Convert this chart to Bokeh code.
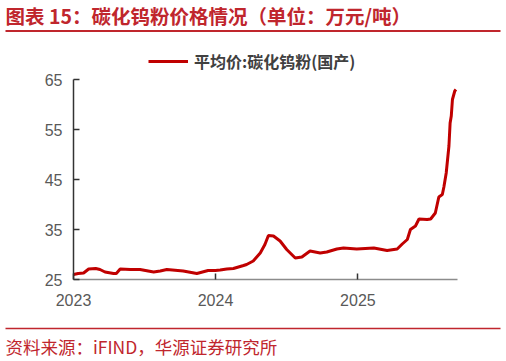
from datetime import datetime
from bokeh.plotting import figure
from bokeh.layouts import column, row
from bokeh.models import (Range1d, FixedTicker, DatetimeTickFormatter, Label,
                          BoxAnnotation, Legend, LegendItem, ColumnDataSource)
from bokeh.embed import file_html
from bokeh.resources import INLINE

title_text = "图表 15：碳化钨粉价格情况（单位：万元/吨）"
source_text = "资料来源：iFIND，华源证券研究所"
series_name = "平均价:碳化钨粉(国产)"

dates = [
    "2023-01-01", "2023-01-13", "2023-01-27", "2023-02-09", "2023-02-27", "2023-03-10",
    "2023-03-23", "2023-04-14", "2023-04-21", "2023-05-01", "2023-05-27", "2023-06-21",
    "2023-07-26", "2023-08-12", "2023-08-29", "2023-10-10", "2023-11-14", "2023-12-13",
    "2024-01-01", "2024-01-13", "2024-01-30", "2024-02-16", "2024-03-13", "2024-03-21",
    "2024-04-07", "2024-04-25", "2024-05-07", "2024-05-16", "2024-05-29", "2024-06-15",
    "2024-07-02", "2024-07-24", "2024-08-10", "2024-08-31", "2024-09-26", "2024-10-13",
    "2024-11-08", "2024-11-25", "2024-12-29", "2025-02-11", "2025-03-17", "2025-04-12",
    "2025-04-25", "2025-05-08", "2025-05-16", "2025-05-29", "2025-06-07", "2025-06-28",
    "2025-07-07", "2025-07-19", "2025-07-28", "2025-08-06", "2025-08-10", "2025-08-16",
    "2025-08-23", "2025-08-26", "2025-08-29", "2025-09-01", "2025-09-07", "2025-09-10",
]
prices = [
    26.0, 26.2, 26.3, 27.1, 27.2, 27.0,
    26.5, 26.2, 26.2, 27.1, 27.0, 27.0,
    26.5, 26.7, 27.0, 26.7, 26.2, 26.8,
    26.8, 26.9, 27.1, 27.2, 27.8, 28.0,
    28.7, 30.3, 32.0, 33.8, 33.7, 32.7,
    31.0, 29.3, 29.5, 30.7, 30.3, 30.5,
    31.1, 31.3, 31.1, 31.3, 30.8, 31.1,
    32.1, 33.0, 35.0, 35.7, 37.1, 37.0,
    37.1, 38.3, 41.5, 42.0, 43.5, 46.3,
    51.7, 56.3, 57.7, 61.0, 62.7, 63.0,
]
y_ticks = [25, 35, 45, 55, 65]
x_tick_years = [2023, 2024, 2025]

x = [datetime.strptime(d, "%Y-%m-%d") for d in dates]
src = ColumnDataSource(dict(x=x, y=prices))

W = 504
RED = "#c0262d"

def blank(h):
    f = figure(width=W, height=h, output_backend="svg", toolbar_location=None,
               x_range=Range1d(0, W), y_range=Range1d(h, 0),
               min_border=0, min_border_left=0, min_border_right=0,
               min_border_top=0, min_border_bottom=0)
    f.axis.visible = False
    f.grid.visible = False
    f.outline_line_color = None
    f.background_fill_color = "white"
    f.border_fill_color = "white"
    return f

# header
HH = 38
head = blank(HH)
head.add_layout(Label(x=5, y=15, text=title_text, text_font="Noto Sans CJK SC",
                      text_font_size="19.5px", text_font_style="bold",
                      text_color=RED, text_baseline="middle"))
head.add_layout(BoxAnnotation(left=5, right=500, top=29.5, bottom=31.5,
                              fill_color=RED, fill_alpha=1, line_alpha=0))

# main plot
MH = 280
p = figure(width=W, height=MH, output_backend="svg", toolbar_location=None,
           x_axis_type="datetime",
           x_range=Range1d(datetime(2023, 1, 1), datetime(2025, 9, 14)),
           y_range=Range1d(25, 71.2),
           min_border_left=73, min_border_right=W - 457,
           min_border_top=10, min_border_bottom=MH - 241)
p.outline_line_color = None
p.xgrid.visible = False
p.ygrid.visible = False
p.background_fill_color = "white"
p.border_fill_color = "white"

r = p.line("x", "y", source=src, line_color="#c00000", line_width=3)

xa = p.xaxis[0]
xa.ticker = FixedTicker(ticks=[datetime(yy, 1, 1).timestamp() * 1000 for yy in x_tick_years])
xa.formatter = DatetimeTickFormatter(years="%Y", months="%Y", days="%Y")
xa.major_tick_in = 6
xa.major_tick_out = 0
xa.minor_tick_line_color = None
xa.axis_line_color = "#8c8c8c"
xa.axis_line_width = 1.5
xa.major_tick_line_color = "#333333"
xa.major_tick_line_width = 1.5
xa.major_label_text_font = "Liberation Sans"
xa.major_label_text_font_size = "16px"
xa.major_label_text_color = "#595959"
xa.major_label_standoff = 14

ya = p.yaxis[0]
ya.ticker = FixedTicker(ticks=y_ticks)
ya.bounds = (25, 65)
ya.major_tick_in = 6
ya.major_tick_out = 0
ya.minor_tick_line_color = None
ya.axis_line_color = "#333333"
ya.axis_line_width = 1.5
ya.major_tick_line_color = "#333333"
ya.major_tick_line_width = 1.5
ya.major_label_text_font = "Liberation Sans"
ya.major_label_text_font_size = "16px"
ya.major_label_text_color = "#595959"
ya.major_label_standoff = 11

leg = Legend(items=[LegendItem(label=series_name, renderers=[r])],
             location=(75, 206), orientation="horizontal",
             glyph_width=40, glyph_height=16, label_standoff=6,
             padding=0, margin=0, spacing=0,
             border_line_alpha=0, background_fill_alpha=0,
             label_text_font="Noto Sans CJK SC", label_text_font_size="16px",
             label_text_font_style="bold", label_text_color="#404040")
p.add_layout(leg, "center")

# footer
FH = 40
foot = blank(FH)
foot.add_layout(BoxAnnotation(left=5, right=500, top=9.3, bottom=10.8,
                              fill_color=RED, fill_alpha=1, line_alpha=0))
foot.add_layout(Label(x=5, y=28, text=source_text, text_font="Noto Sans CJK SC",
                      text_font_size="17.5px", text_color=RED, text_baseline="middle"))

layout = column(row(head), row(p), row(foot), spacing=0)
open("out.html", "w").write(file_html(layout, INLINE))
